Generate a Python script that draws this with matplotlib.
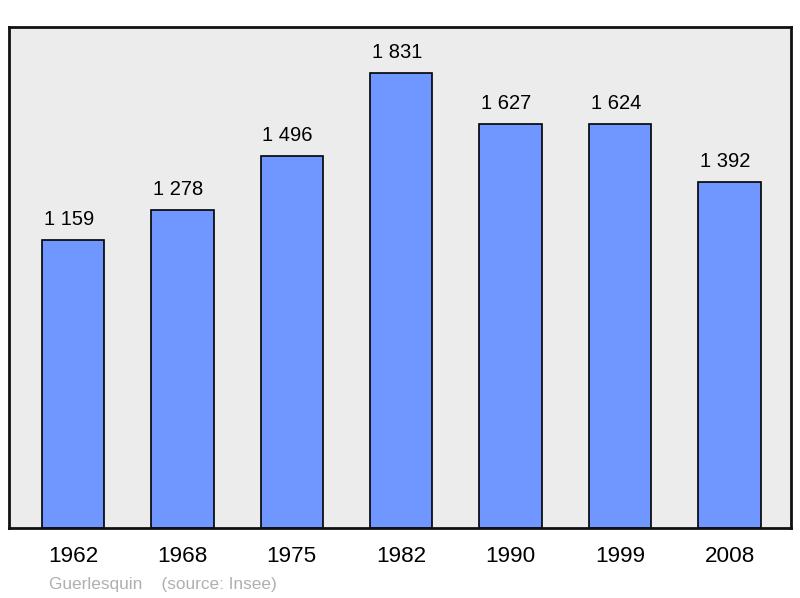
import matplotlib.pyplot as plt

plt.rcParams['font.family'] = ['Liberation Sans', 'DejaVu Sans']

# population data
years = ['1962', '1968', '1975', '1982', '1990', '1999', '2008']
population = [1159, 1278, 1496, 1831, 1627, 1624, 1392]
labels = ['1 159', '1 278', '1 496', '1 831', '1 627', '1 624', '1 392']

fig = plt.figure(figsize=(8, 5.98), dpi=100)
ax = fig.add_axes([9 / 800, 70 / 598, 782 / 800, 501 / 598])
ax.set_facecolor('#ececec')

x = range(len(years))
bars = ax.bar(x, population, width=0.57, color='#7096ff', edgecolor='black', linewidth=1.2, zorder=2)

# value labels sit slightly left of the bar centre, as in the original
for xi, val, lab in zip(x, population, labels):
    ax.annotate(lab, xy=(xi, val), xytext=(-3, 8), textcoords='offset points',
                ha='center', va='bottom', fontsize=14.5)

ax.set_xlim(-0.585, 6.562)
ax.set_ylim(0, 2016)
ax.set_yticks([])
ax.set_xticks(list(x))
ax.set_xticklabels(years, fontsize=16.2)
ax.tick_params(axis='x', length=0, pad=13)

for s in ax.spines.values():
    s.set_linewidth(2)
    s.set_color('#111111')

fig.text(49 / 800, 1 - 585 / 598, 'Guerlesquin    (source: Insee)', color='#b0b0b0',
         fontsize=12.4, va='center', ha='left')

plt.savefig('out.png', dpi=100)
